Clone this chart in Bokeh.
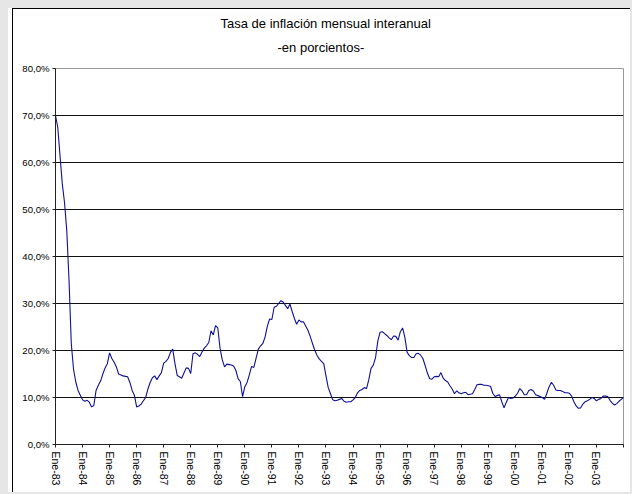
from bokeh.plotting import figure
from bokeh.models import FixedTicker, Range1d, ColumnDataSource, Title
from bokeh.embed import file_html
from bokeh.resources import INLINE

title_lines = ["Tasa de inflación mensual interanual", "-en porcientos-"]

tick_labels = ["Ene-83", "Ene-84", "Ene-85", "Ene-86", "Ene-87", "Ene-88", "Ene-89",
               "Ene-90", "Ene-91", "Ene-92", "Ene-93", "Ene-94", "Ene-95", "Ene-96",
               "Ene-97", "Ene-98", "Ene-99", "Ene-00", "Ene-01", "Ene-02", "Ene-03"]

y_ticks = [0, 10, 20, 30, 40, 50, 60, 70, 80]
y_labels = ["0,0%", "10,0%", "20,0%", "30,0%", "40,0%", "50,0%", "60,0%", "70,0%", "80,0%"]

# monthly year-on-year inflation, Ene-83 .. Ene-04 (percent)
inflation = [
    70.0, 67.5, 61.5, 55.5, 51.5, 45.5, 35.0, 21.5, 16.0, 13.3, 11.5, 10.5,   # 83
    9.5, 9.2, 9.4, 9.0, 8.0, 8.3, 11.5, 12.6, 13.5, 15.0, 16.3, 17.2,         # 84
    19.5, 18.3, 17.5, 16.5, 15.0, 14.8, 14.6, 14.5, 14.4, 13.2, 11.5, 10.5,   # 85
    8.0, 8.2, 8.6, 9.3, 10.0, 11.8, 13.2, 14.2, 14.6, 13.8, 14.6, 15.3,       # 86
    17.3, 17.7, 18.3, 19.6, 20.3, 17.2, 14.7, 14.4, 14.1, 15.2, 16.3, 16.2,   # 87
    15.1, 19.3, 19.5, 19.2, 18.7, 19.7, 20.5, 21.0, 21.7, 24.2, 23.3, 25.3,   # 88
    24.8, 20.5, 18.0, 16.5, 17.1, 17.0, 16.9, 16.7, 15.8, 14.0, 13.4, 10.2,   # 89
    12.3, 13.2, 14.8, 16.6, 16.4, 18.4, 20.3, 21.0, 21.5, 22.9, 25.2, 26.7,   # 90
    26.6, 29.2, 29.4, 30.0, 30.6, 30.3, 29.6, 28.9, 29.9, 28.3, 26.8, 25.6,   # 91
    26.5, 26.1, 26.1, 25.2, 24.3, 23.0, 21.5, 20.1, 19.0, 18.2, 17.7, 17.2,   # 92
    14.6, 12.1, 10.8, 9.5, 9.3, 9.4, 9.6, 9.8, 9.2, 9.0, 9.1, 9.1,            # 93
    9.5, 10.0, 11.0, 11.5, 11.7, 12.1, 11.9, 13.8, 16.2, 16.9, 18.5, 22.0,    # 94
    23.9, 24.0, 23.6, 23.2, 22.7, 22.3, 23.1, 23.0, 22.2, 24.0, 24.8, 22.8,   # 95
    19.6, 18.9, 18.5, 18.5, 19.3, 19.4, 19.0, 18.3, 16.8, 15.2, 14.0, 13.9,   # 96
    14.4, 14.5, 14.4, 15.3, 14.1, 13.6, 13.3, 12.5, 11.8, 10.8, 11.4, 11.0,   # 97
    10.8, 11.0, 11.1, 10.6, 10.7, 10.8, 11.7, 12.7, 12.8, 12.8, 12.6, 12.6,   # 98
    12.5, 12.4, 10.9, 10.2, 10.4, 10.6, 9.1, 7.8, 9.0, 10.0, 9.8, 9.9,        # 99
    10.3, 10.9, 11.9, 11.4, 10.6, 10.6, 11.5, 11.7, 11.4, 10.6, 10.4, 10.2,   # 00
    10.0, 9.6, 10.9, 12.3, 13.2, 12.6, 11.6, 11.5, 11.5, 11.3, 11.0, 11.0,    # 01
    10.9, 10.3, 9.1, 8.2, 7.7, 7.8, 8.6, 9.1, 9.3, 9.6, 10.0, 9.8,            # 02
    9.3, 9.6, 9.8, 10.3, 10.3, 10.2, 9.4, 8.8, 8.4, 8.7, 9.2, 9.6,            # 03
    10.0,                                                                     # 04
]

months = list(range(len(inflation)))
source = ColumnDataSource(data=dict(month=months, inflation=inflation))

FONT = "Liberation Sans"
last = months[-1]

p = figure(width=618, height=484, output_backend="svg", toolbar_location=None,
           x_range=Range1d(0, last), y_range=Range1d(0, 80),
           min_border_left=42, min_border_right=8, min_border_top=59, min_border_bottom=49,
           background_fill_color="white", border_fill_color="white")

p.styles = {"margin-left": "12px", "margin-top": "8px",
            "border-left": "1px solid black", "border-top": "1px solid black",
            "box-shadow": "-4px 0 0 0 white", "background-color": "white"}

# title (two lines): built-in title (outermost) holds the first line,
# the added Title (nearest the frame) holds the second line
p.title.text = title_lines[0]
p.title.align = "left"
p.title.offset = 165
p.title.standoff = -14
p.title.text_font = FONT
p.title.text_font_size = "13px"
p.title.text_font_style = "normal"
p.title.text_color = "black"
p.add_layout(Title(text=title_lines[1], align="left", offset=222, standoff=28,
                   text_font=FONT, text_font_size="13px", text_font_style="normal",
                   text_color="black"), "above")

p.line("month", "inflation", source=source, line_color="#101090", line_width=1.1)

# y axis
p.yaxis.ticker = FixedTicker(ticks=y_ticks)
p.yaxis.major_label_overrides = {t: l for t, l in zip(y_ticks, y_labels)}
p.yaxis.major_label_text_font = FONT
p.yaxis.major_label_text_font_size = "9.6px"
p.yaxis.major_label_text_color = "black"
p.yaxis.major_label_standoff = 3
p.yaxis.major_tick_out = 3
p.yaxis.major_tick_in = 0
p.yaxis.minor_tick_line_color = None
p.yaxis.axis_line_color = "#222222"
p.yaxis.major_tick_line_color = "#222222"

# x axis
x_ticks = [12 * k for k in range(len(tick_labels))] + [last]
p.xaxis.ticker = FixedTicker(ticks=x_ticks)
overrides = {12 * k: lab for k, lab in enumerate(tick_labels)}
overrides[last] = ""
p.xaxis.major_label_overrides = overrides
p.xaxis.major_label_orientation = "vertical"
p.xaxis.major_label_text_font = FONT
p.xaxis.major_label_text_font_size = "10.5px"
p.xaxis.major_label_text_color = "black"
p.xaxis.major_label_standoff = 4
p.xaxis.major_tick_out = 3
p.xaxis.major_tick_in = 0
p.xaxis.minor_tick_line_color = None
p.xaxis.axis_line_color = "#222222"
p.xaxis.major_tick_line_color = "#222222"

# grid
p.xgrid.grid_line_color = None
p.ygrid.ticker = FixedTicker(ticks=y_ticks)
p.ygrid.grid_line_color = "#111111"
p.ygrid.grid_line_width = 1

p.outline_line_color = "#9a9a9a"
p.outline_line_width = 1

html = file_html(p, INLINE)
html = html.replace("</head>", "<style>body{background-color:#e6e6e6;}</style></head>", 1)
open("out.html", "w").write(html)
